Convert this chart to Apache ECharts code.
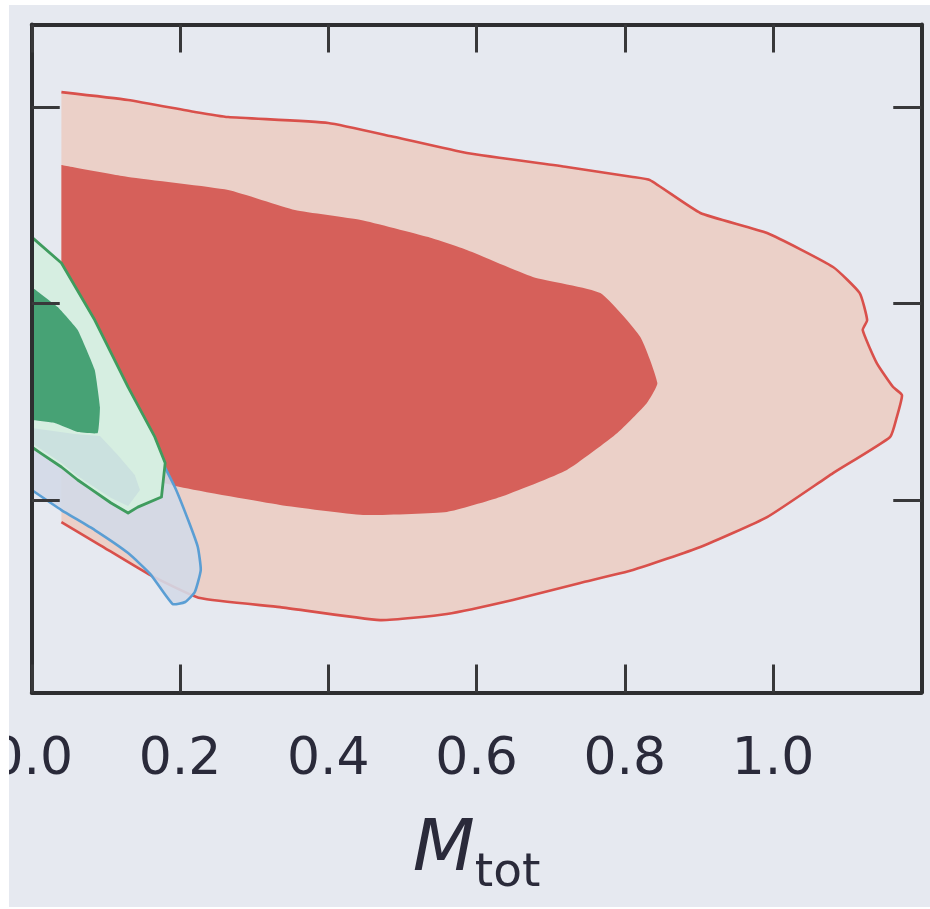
<!DOCTYPE html>
<html>
<head>
<meta charset="utf-8">
<script src="https://cdn.jsdelivr.net/npm/echarts@6/dist/echarts.min.js"></script>
<style>
  html, body { margin: 0; padding: 0; background: #ffffff; }
  #chart { position: absolute; left: 9px; top: 5px; width: 921px; height: 902px; }
</style>
</head>
<body>
<div id="chart"></div>
<script>
// Tick positions
const xTicks = [0.0, 0.2, 0.4, 0.6, 0.8, 1.0];
const yTicks = [1, 2, 3];

// Red posterior: outer (2-sigma) and inner (1-sigma) contours, cut at M_tot = 0.04
const redOuter = [
  [0.040, 3.076], [0.130, 3.036], [0.220, 2.975], [0.265, 2.949], [0.400, 2.919],
  [0.490, 2.847], [0.587, 2.766], [0.722, 2.695], [0.811, 2.644], [0.834, 2.628],
  [0.902, 2.461], [0.992, 2.359], [1.081, 2.186], [1.117, 2.053], [1.127, 1.916],
  [1.121, 1.865], [1.140, 1.697], [1.162, 1.575], [1.174, 1.534], [1.167, 1.422],
  [1.158, 1.321], [1.081, 1.137], [0.992, 0.913], [0.902, 0.761], [0.811, 0.644],
  [0.740, 0.578], [0.649, 0.491], [0.560, 0.420], [0.470, 0.389], [0.335, 0.455],
  [0.227, 0.501], [0.160, 0.618], [0.092, 0.771], [0.040, 0.888]
];
const redInner = [
  [0.040, 2.705], [0.130, 2.644], [0.265, 2.578], [0.355, 2.476], [0.444, 2.425],
  [0.535, 2.338], [0.587, 2.272], [0.676, 2.135], [0.767, 2.053], [0.821, 1.830],
  [0.844, 1.595], [0.830, 1.494], [0.790, 1.341], [0.722, 1.153], [0.632, 1.015],
  [0.560, 0.939], [0.447, 0.924], [0.335, 0.975], [0.200, 1.066], [0.119, 1.153],
  [0.040, 1.305]
];

// Blue posterior: outer contour
const blueOuter = [
  [0.000, 2.171], [0.052, 1.967], [0.106, 1.611], [0.160, 1.305], [0.193, 1.066],
  [0.211, 0.898], [0.224, 0.761], [0.228, 0.644], [0.220, 0.532], [0.207, 0.481],
  [0.190, 0.471], [0.160, 0.623], [0.130, 0.730], [0.085, 0.847], [0.040, 0.949],
  [0.000, 1.051]
];

// Green posterior: outer and inner contours, and the band where it overlaps the blue core
const greenOuter = [
  [0.000, 2.338], [0.040, 2.206], [0.085, 1.916], [0.130, 1.575], [0.166, 1.321],
  [0.180, 1.188], [0.175, 1.015], [0.143, 0.964], [0.130, 0.934], [0.107, 0.985],
  [0.076, 1.066], [0.062, 1.102], [0.040, 1.168], [0.012, 1.239], [0.000, 1.270]
];
const greenOverlap = [
  [0.000, 1.366], [0.058, 1.336], [0.092, 1.326], [0.116, 1.229], [0.139, 1.127],
  [0.146, 1.051], [0.130, 0.969], [0.107, 1.010], [0.076, 1.087], [0.062, 1.122],
  [0.040, 1.188], [0.012, 1.260], [0.000, 1.290]
];
const greenInner = [
  [0.000, 2.084], [0.035, 1.982], [0.062, 1.865], [0.085, 1.662], [0.092, 1.473],
  [0.089, 1.341], [0.062, 1.346], [0.031, 1.392], [0.000, 1.407]
];

const BG = '#e6e9f0';
const FRAME = '#2e2e30';

// One custom series per contour patch. The open, smoothed contour is filled
// (the fill closes it with a straight edge along the cut) and optionally stroked.
function patch(name, pts, fill, opacity, line, lineWidth, z, smooth) {
  return {
    type: 'custom',
    name: name,
    coordinateSystem: 'cartesian2d',
    z: z,
    silent: true,
    data: pts,
    encode: { x: 0, y: 1 },
    renderItem: function (params, api) {
      if (params.dataIndex !== 0) return null;
      const coords = pts.map(function (p) { return api.coord(p); });
      const children = [];
      if (fill) {
        children.push({
          type: 'polyline',
          shape: { points: coords, smooth: smooth || 0 },
          style: { fill: fill, opacity: opacity, stroke: null }
        });
      }
      if (line) {
        children.push({
          type: 'polyline',
          shape: { points: coords, smooth: smooth || 0 },
          style: { stroke: line, lineWidth: lineWidth, fill: null, lineJoin: 'round' }
        });
      }
      return { type: 'group', children: children };
    }
  };
}

const tickStyle = { color: '#38383a', width: 3 };
const lineStyle = { color: FRAME, width: 4 };
const textColor = '#2a2a3a';

const chart = echarts.init(document.getElementById('chart'), null, { renderer: 'canvas' });
chart.setOption({
  backgroundColor: BG,
  animation: false,
  grid: {
    left: 22.75, right: 8.75, top: 19.5, bottom: 214.4,
    containLabel: false, outerBoundsMode: 'none'
  },
  xAxis: [
    {
      type: 'value', position: 'bottom', min: 0, max: 1.2, z: 10,
      axisLine: { show: true, onZero: false, lineStyle: lineStyle },
      axisTick: { show: true, inside: true, length: 28, customValues: xTicks, lineStyle: tickStyle },
      axisLabel: {
        show: true, customValues: xTicks, margin: 42,
        formatter: function (v) { return v.toFixed(1); },
        fontFamily: 'DejaVu Sans', fontSize: 52, lineHeight: 52, color: textColor
      },
      splitLine: { show: false },
      name: '{m|M}{s|tot}',
      nameLocation: 'middle',
      nameGap: 133,
      nameTextStyle: {
        rich: {
          m: { fontFamily: 'DejaVu Sans', fontStyle: 'italic', fontSize: 72, lineHeight: 72,
               color: textColor, verticalAlign: 'bottom', padding: [0, 0, 10, 0] },
          s: { fontFamily: 'DejaVu Sans', fontSize: 47, lineHeight: 47,
               color: textColor, verticalAlign: 'bottom' }
        }
      }
    },
    {
      type: 'value', position: 'top', min: 0, max: 1.2, z: 10,
      axisLine: { show: true, onZero: false, lineStyle: lineStyle },
      axisTick: { show: true, inside: true, length: 28, customValues: xTicks, lineStyle: tickStyle },
      axisLabel: { show: false },
      splitLine: { show: false }
    }
  ],
  yAxis: [
    {
      type: 'value', position: 'left', min: 0.02, max: 3.42, z: 10,
      axisLine: { show: true, onZero: false, lineStyle: lineStyle },
      axisTick: { show: true, inside: true, length: 28, customValues: yTicks, lineStyle: tickStyle },
      axisLabel: { show: false },
      splitLine: { show: false }
    },
    {
      type: 'value', position: 'right', min: 0.02, max: 3.42, z: 10,
      axisLine: { show: true, onZero: false, lineStyle: lineStyle },
      axisTick: { show: true, inside: true, length: 28, customValues: yTicks, lineStyle: tickStyle },
      axisLabel: { show: false },
      splitLine: { show: false }
    }
  ],
  series: [
    patch('red outer', redOuter, '#ebd0c8', 1, '#d9504b', 2.6, 2, 0.15),
    patch('red inner', redInner, '#d6605a', 1, null, 0, 3, 0.15),
    patch('blue outer', blueOuter, '#d3d9e7', 0.9, '#5a9ed4', 2.6, 4, 0.15),
    patch('green outer', greenOuter, '#d6eee1', 1, null, 0, 5, 0),
    patch('green overlap', greenOverlap, '#cbe1df', 1, null, 0, 6, 0),
    patch('green inner', greenInner, '#47a275', 1, null, 0, 7, 0.1),
    patch('green outer line', greenOuter, null, 1, '#3f9c5e', 2.8, 8, 0)
  ]
});
</script>
</body>
</html>
